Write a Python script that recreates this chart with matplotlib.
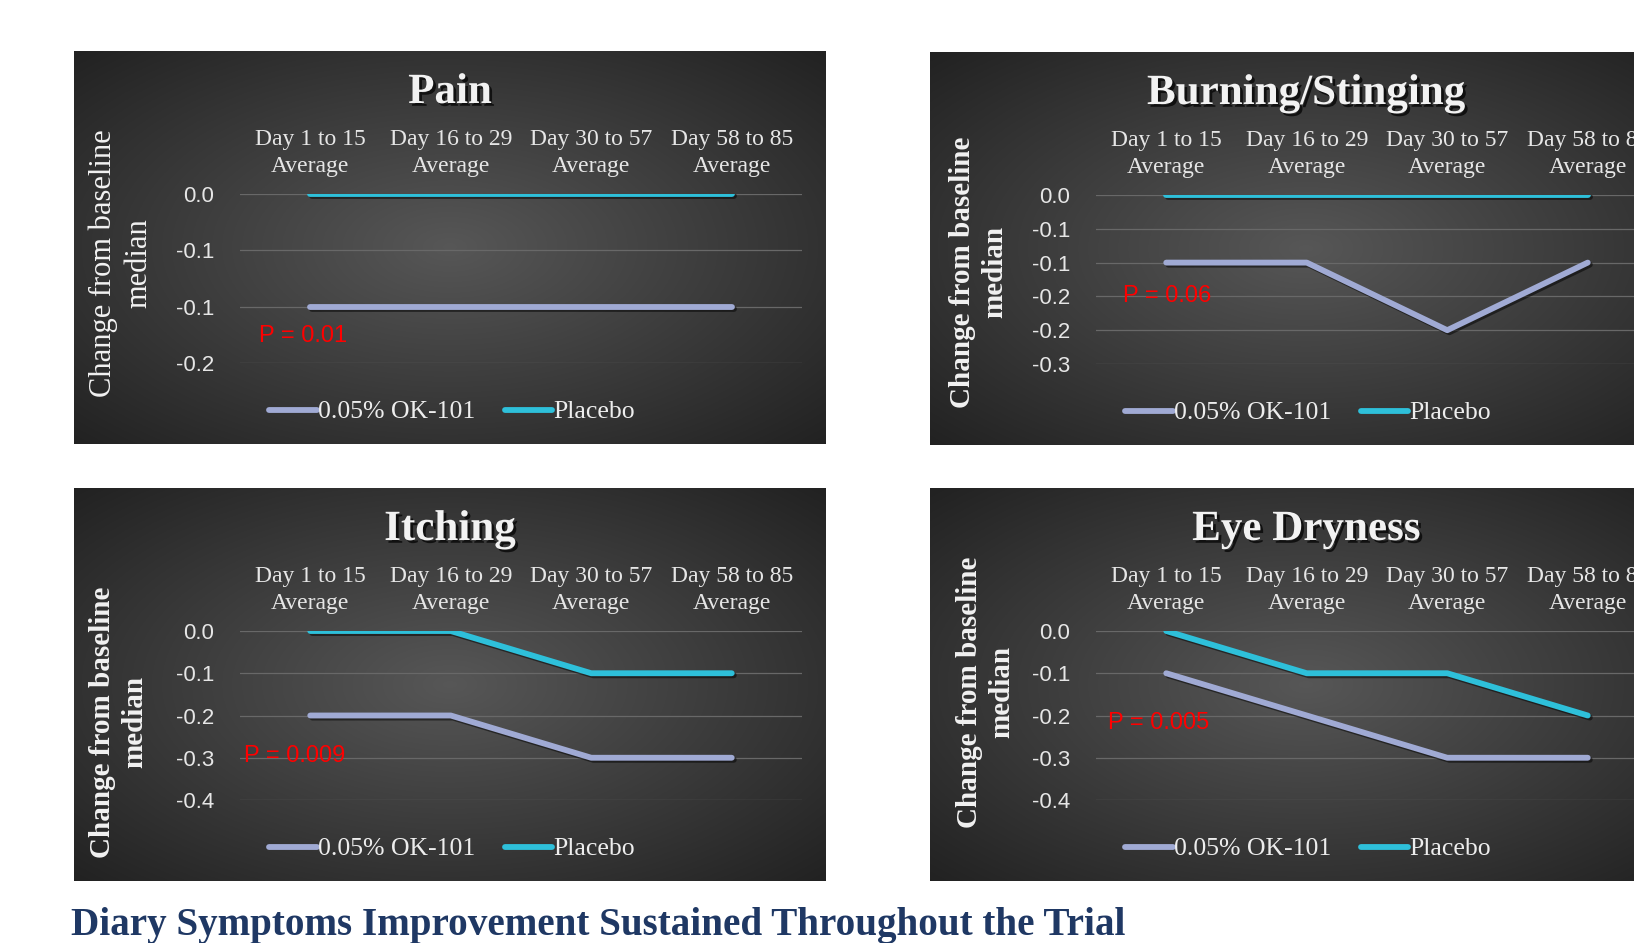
import numpy as np
import matplotlib.pyplot as plt
import matplotlib.patheffects as pe
from matplotlib.lines import Line2D

# data
categories = ['Day 1 to 15\nAverage', 'Day 16 to 29\nAverage',
              'Day 30 to 57\nAverage', 'Day 58 to 85\nAverage']
series_names = ['0.05% OK-101', 'Placebo']
titles = ['Pain', 'Burning/Stinging', 'Itching', 'Eye Dryness']

pain_ok = [-0.1, -0.1, -0.1, -0.1]
pain_placebo = [0.0, 0.0, 0.0, 0.0]
burning_ok = [-0.1, -0.1, -0.2, -0.1]
burning_placebo = [0.0, 0.0, 0.0, 0.0]
itching_ok = [-0.2, -0.2, -0.3, -0.3]
itching_placebo = [0.0, 0.0, -0.1, -0.1]
dryness_ok = [-0.1, -0.2, -0.3, -0.3]
dryness_placebo = [0.0, -0.1, -0.1, -0.2]

pain_ticks = [0.0, -0.05, -0.10, -0.15]
pain_ticklabels = ['0.0', '-0.1', '-0.1', '-0.2']
burning_ticks = [0.0, -0.05, -0.10, -0.15, -0.20, -0.25]
burning_ticklabels = ['0.0', '-0.1', '-0.1', '-0.2', '-0.2', '-0.3']
itching_ticks = [0.0, -0.1, -0.2, -0.3, -0.4]
itching_ticklabels = ['0.0', '-0.1', '-0.2', '-0.3', '-0.4']
dryness_ticks = [0.0, -0.1, -0.2, -0.3, -0.4]
dryness_ticklabels = ['0.0', '-0.1', '-0.2', '-0.3', '-0.4']

p_values = ['P = 0.01', 'P = 0.06', 'P = 0.009', 'P = 0.005']
ylabel = 'Change from baseline\nmedian'
main_title = 'Diary Symptoms Improvement Sustained Throughout the Trial'

ok_color = '#a0aad4'
placebo_color = '#2ec0da'

W, H = 1634, 943
fig = plt.figure(figsize=(W / 100, H / 100), dpi=100)
fig.patch.set_facecolor('white')

# panel layout in pixels (left, top)
panels = [(74, 51), (930, 52), (74, 488), (930, 488)]
PW, PH = 752, 393
# y label centre (absolute px) and weight
ylabel_pos = [(121, 263, 'normal'), (979, 272, 'bold'), (119, 722, 'bold'), (986, 692, 'bold')]
p_pos = [(19, 142), (27, 101), (4, 125), (12, 92)]

ok_data = [pain_ok, burning_ok, itching_ok, dryness_ok]
pl_data = [pain_placebo, burning_placebo, itching_placebo, dryness_placebo]
tick_sets = [(pain_ticks, pain_ticklabels), (burning_ticks, burning_ticklabels),
             (itching_ticks, itching_ticklabels), (dryness_ticks, dryness_ticklabels)]

# radial gradient background
yy, xx = np.mgrid[-1:1:300j, -1:1:500j]
r = np.sqrt(xx ** 2 + yy ** 2)
grad = np.clip(1 - r / 1.5, 0, 1)
c_in = np.array([0.34, 0.34, 0.34])
c_out = np.array([0.12, 0.12, 0.12])
img = c_out + (c_in - c_out) * grad[..., None]

shadow = [pe.SimpleLineShadow(offset=(1.5, -1.5), alpha=0.5, shadow_color='black'), pe.Normal()]
LW = 4.2

for i, (px, py) in enumerate(panels):
    bg = fig.add_axes([px / W, 1 - (py + PH) / H, PW / W, PH / H])
    bg.imshow(img, aspect='auto', extent=[0, 1, 0, 1])
    bg.set_axis_off()

    ax = fig.add_axes([(px + 166) / W, 1 - (py + 143 + 169) / H, 562 / W, 169 / H])
    ax.set_facecolor('none')
    x = np.arange(len(categories)) + 0.5
    ax.plot(x, ok_data[i], color=ok_color, lw=LW, solid_capstyle='round',
            solid_joinstyle='round', path_effects=shadow, zorder=3)
    ax.plot(x, pl_data[i], color=placebo_color, lw=LW, solid_capstyle='round',
            solid_joinstyle='round', path_effects=shadow, zorder=3)
    ticks, labels = tick_sets[i]
    ax.set_xlim(0, len(categories))
    ax.set_ylim(min(ticks), 0)
    ax.set_yticks(ticks)
    ax.set_yticklabels(labels, family='Liberation Sans', fontsize=16, color='#e6e6e6')
    ax.xaxis.tick_top()
    ax.set_xticks(x)
    ax.set_xticklabels(categories, family='Liberation Serif', fontsize=17,
                       color='#e6e6e6', linespacing=1.38)
    ax.tick_params(length=0)
    ax.tick_params(axis='y', pad=18.5)
    ax.tick_params(axis='x', pad=12)
    for s in ax.spines.values():
        s.set_visible(False)
    ax.yaxis.grid(True, color='#686868', lw=0.9)
    ax.set_axisbelow(True)

    ax.text(p_pos[i][0] / 562, 1 - p_pos[i][1] / 169, p_values[i], transform=ax.transAxes,
            color='#ff0000', family='Liberation Sans', fontsize=17, ha='left', va='center')

    fig.text((px + 376) / W, 1 - (py + 42) / H, titles[i], ha='center', va='center',
             family='Liberation Serif', weight='bold', fontsize=31, color='#f2f2f2',
             path_effects=[pe.withSimplePatchShadow(offset=(2, -2), alpha=0.7, shadow_rgbFace='black')])

    lx, ly, lw_ = ylabel_pos[i]
    fig.text(lx / W, 1 - ly / H, ylabel, rotation=90, ha='center',
             va='center', multialignment='center', family='Liberation Serif', weight=lw_,
             fontsize=22 if lw_ == 'normal' else 21, color='#f2f2f2', linespacing=1.25)

    handles = [Line2D([], [], color=ok_color, lw=LW, solid_capstyle='round'),
               Line2D([], [], color=placebo_color, lw=LW, solid_capstyle='round')]
    leg = fig.legend(handles, series_names, loc='center left',
                     bbox_to_anchor=((px + 195) / W, 1 - (py + 361) / H),
                     ncol=2, frameon=False, handlelength=1.85, handletextpad=0.05,
                     columnspacing=1.15, borderpad=0, borderaxespad=0,
                     prop={'family': 'Liberation Serif', 'size': 18.5})
    for t in leg.get_texts():
        t.set_color('#ededed')

fig.text(71 / W, 1 - 926 / H, main_title, ha='left', va='center',
         family='Liberation Serif', weight='bold', fontsize=28.2, color='#1f3864')

fig.savefig('out.png', dpi=100, facecolor='white')
